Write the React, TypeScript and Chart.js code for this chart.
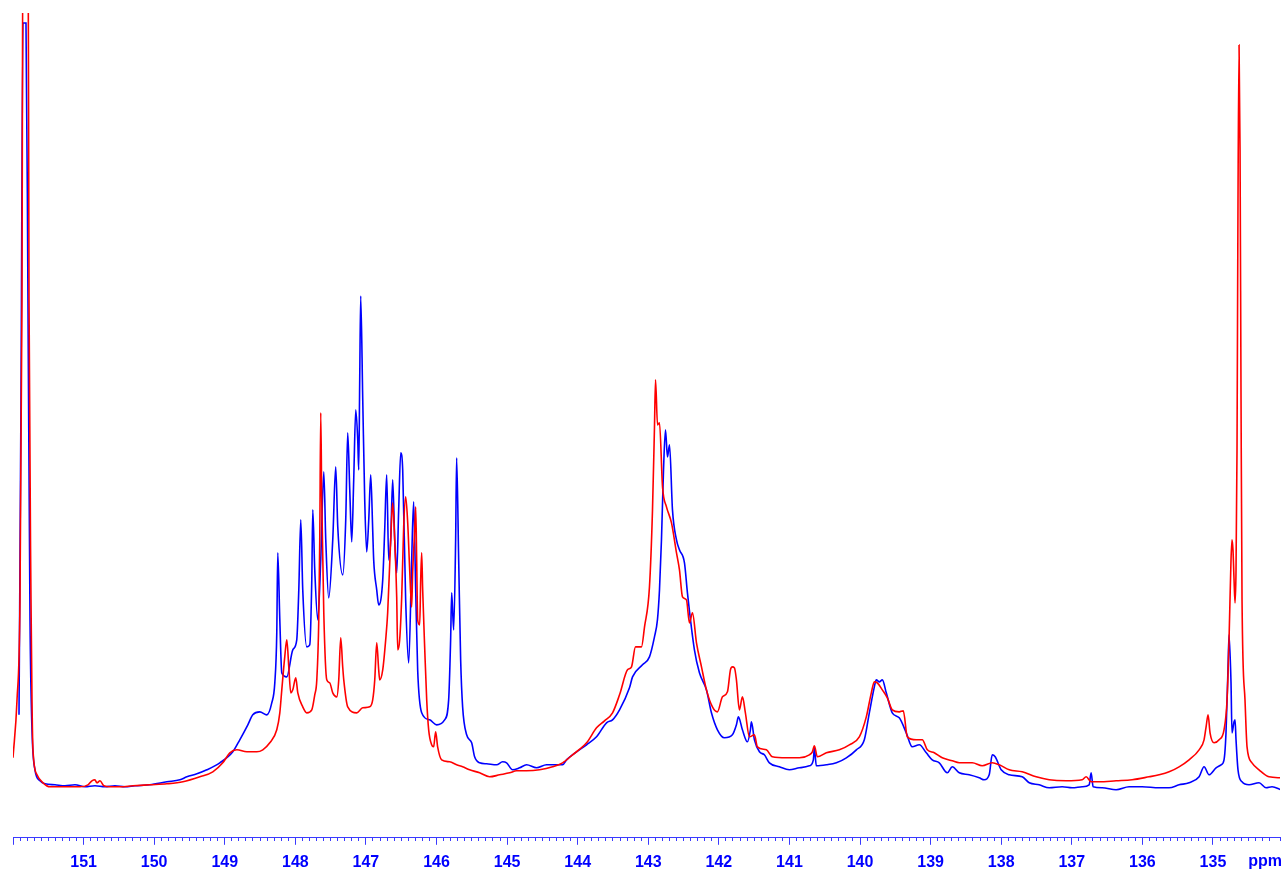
import React, { useEffect, useRef } from "react";
import { Chart, registerables } from "chart.js";

Chart.register(...registerables);

const X_MIN = 134.05;
const X_MAX = 152.0;
const Y_MIN = -48;
const Y_MAX = 777;
const AXIS_LABEL = "ppm";

const bluePpm = [151.915,151.887,151.858,151.816,151.788,151.759,151.731,151.689,151.618,151.547,151.405,151.264,151.122,150.981,150.839,150.698,150.556,150.414,150.273,150.061,149.820,149.636,149.537,149.395,149.254,149.070,148.886,148.787,148.673,148.603,148.503,148.404,148.334,148.291,148.263,148.249,148.220,148.192,148.121,148.036,147.980,147.951,147.923,147.895,147.838,147.796,147.767,147.753,147.725,147.682,147.640,147.597,147.569,147.527,147.470,147.428,147.399,147.328,147.286,147.258,147.229,147.201,147.173,147.144,147.116,147.102,147.088,147.074,147.045,147.017,146.989,146.960,146.932,146.904,146.890,146.847,146.819,146.762,146.734,146.706,146.677,146.649,146.621,146.592,146.564,146.536,146.507,146.479,146.437,146.394,146.352,146.324,146.295,146.267,146.210,146.097,145.998,145.885,145.828,145.800,145.785,145.757,145.729,145.715,145.686,145.658,145.630,145.573,145.502,145.460,145.389,145.290,145.148,145.064,145.007,144.922,144.823,144.724,144.582,144.441,144.299,144.214,144.158,144.016,143.874,143.733,143.591,143.506,143.407,143.266,143.223,143.082,142.983,142.912,142.870,142.841,142.813,142.784,142.756,142.728,142.699,142.657,142.600,142.558,142.487,142.445,142.346,142.275,142.176,142.105,142.020,141.921,141.808,141.751,141.723,141.666,141.595,141.553,141.539,141.496,141.425,141.355,141.284,141.142,141.001,140.859,140.718,140.661,140.647,140.619,140.477,140.335,140.194,140.052,139.939,139.868,139.797,139.769,139.727,139.684,139.628,139.543,139.444,139.345,139.260,139.160,139.061,138.977,138.877,138.764,138.693,138.594,138.453,138.311,138.240,138.170,138.127,138.085,138.000,137.886,137.702,137.603,137.462,137.320,137.136,136.995,136.853,136.754,136.726,136.697,136.570,136.372,136.188,136.004,135.763,135.621,135.480,135.338,135.196,135.126,135.055,134.956,134.885,134.843,134.815,134.786,134.772,134.744,134.730,134.701,134.687,134.673,134.645,134.588,134.489,134.347,134.248,134.163,134.036];

const blueInt = [75,390,767,767,490,170,60,20,9,6,5,4,5,3,4,3,4,3,4,5,8,10,13,16,20,27,38,50,65,75,78,75,87,107,157,237,170,117,113,140,150,200,270,200,143,145,210,280,220,170,230,318,250,192,250,323,263,215,270,357,300,248,310,380,350,320,410,494,390,290,238,270,315,260,230,200,185,210,260,315,230,250,310,250,217,280,337,320,190,127,230,288,200,120,77,70,65,70,90,150,197,160,250,332,230,130,83,55,47,33,27,26,25,28,27,20,22,25,22,25,25,25,30,38,45,53,67,70,80,102,113,125,133,153,170,200,250,320,360,333,345,280,250,240,227,197,140,117,100,77,60,52,55,65,73,60,48,60,68,50,38,35,27,23,20,22,24,30,42,24,25,27,32,40,50,77,103,110,108,110,97,77,72,57,43,45,37,30,27,17,23,17,15,12,10,15,35,33,20,15,13,7,5,2,3,2,3,5,17,3,2,0,3,3,2,2,5,7,13,23,15,22,25,30,57,123,155,107,57,68,70,50,20,8,5,7,2,3,0];

const redPpm = [152.000,151.943,151.901,151.873,151.858,151.788,151.773,151.745,151.731,151.717,151.660,151.575,151.476,151.236,151.052,150.938,150.882,150.839,150.811,150.768,150.712,150.627,150.485,150.301,150.061,149.820,149.593,149.353,149.169,149.028,148.928,148.829,148.687,148.546,148.461,148.362,148.263,148.220,148.192,148.150,148.121,148.093,148.065,148.036,147.994,147.965,147.895,147.838,147.767,147.725,147.696,147.668,147.654,147.640,147.626,147.597,147.555,147.513,147.470,147.413,147.385,147.357,147.328,147.314,147.258,147.130,147.045,146.946,146.904,146.875,146.847,146.819,146.805,146.762,146.720,146.692,146.649,146.621,146.592,146.564,146.550,146.522,146.493,146.465,146.437,146.408,146.380,146.352,146.338,146.309,146.295,146.281,146.267,146.238,146.224,146.210,146.196,146.168,146.139,146.111,146.069,146.041,146.012,145.984,145.927,145.814,145.715,145.630,145.531,145.389,145.248,145.106,144.964,144.865,144.724,144.540,144.356,144.214,144.073,143.874,143.733,143.620,143.506,143.407,143.294,143.237,143.181,143.096,143.053,142.983,142.940,142.912,142.897,142.869,142.841,142.798,142.742,142.671,142.600,142.558,142.515,142.459,142.416,142.374,142.317,142.246,142.176,142.091,142.020,141.949,141.878,141.836,141.808,141.779,141.751,141.709,141.666,141.624,141.567,141.496,141.454,141.326,141.242,141.043,140.859,140.718,140.675,140.647,140.604,140.477,140.293,140.151,140.010,139.911,139.840,139.797,139.755,139.684,139.613,139.543,139.444,139.387,139.330,139.203,139.118,139.047,138.948,138.835,138.693,138.594,138.410,138.269,138.127,138.028,137.886,137.702,137.504,137.320,137.080,136.853,136.796,136.726,136.612,136.372,136.145,135.905,135.763,135.621,135.480,135.338,135.196,135.126,135.097,135.069,135.041,134.984,134.913,134.843,134.800,134.772,134.744,134.730,134.716,134.701,134.687,134.673,134.659,134.645,134.630,134.616,134.602,134.588,134.546,134.517,134.447,134.347,134.206,134.036];

const redInt = [32,90,190,490,900,900,490,190,90,40,15,7,3,3,3,5,9,10,7,9,4,3,3,4,5,6,8,13,18,27,37,40,38,38,40,47,60,77,100,133,150,123,97,100,112,97,83,77,80,95,110,170,250,377,290,177,110,107,97,93,110,152,122,110,83,77,82,83,90,110,147,120,110,120,150,177,250,287,250,193,140,150,193,263,293,267,220,183,217,260,283,230,170,165,210,237,200,143,90,60,45,43,58,43,30,28,25,23,20,17,13,15,17,19,19,20,23,27,35,47,62,69,77,95,120,123,143,143,163,203,280,363,410,365,367,303,283,267,237,220,193,190,167,177,147,123,100,83,78,93,98,120,123,122,110,80,93,77,53,55,43,40,33,32,32,35,38,44,33,37,40,45,53,73,97,108,107,100,92,80,78,79,53,50,50,40,37,32,29,27,27,24,27,25,20,18,13,10,9,10,13,8,8,9,10,13,15,18,23,30,40,50,63,75,57,47,50,60,90,150,230,250,240,210,187,220,340,590,745,640,390,190,90,43,27,20,13,12];

function toPoints(xs: number[], ys: number[]) {
  const n = Math.min(xs.length, ys.length);
  const pts: { x: number; y: number }[] = [];
  for (let i = 0; i < n; i++) pts.push({ x: xs[i], y: ys[i] });
  return pts;
}

const isInteger = (v: number) => Math.abs(v - Math.round(v)) < 1e-6;

export default function App() {
  const ref = useRef<HTMLCanvasElement | null>(null);

  useEffect(() => {
    if (!ref.current) return;
    const unitPlugin = {
      id: "unitLabel",
      afterDraw(chart: any) {
        const ctx = chart.ctx;
        const sc = chart.scales.x;
        ctx.save();
        ctx.font = 'bold 16px "Liberation Sans", Arial, sans-serif';
        ctx.fillStyle = "#0000ff";
        ctx.textAlign = "right";
        ctx.textBaseline = "middle";
        ctx.fillText(AXIS_LABEL, sc.right + 2, sc.top + 24);
        ctx.restore();
      },
    };
    const chart = new Chart(ref.current, {
      type: "line",
      data: {
        datasets: [
          {
            label: "red",
            data: toPoints(redPpm, redInt),
            borderColor: "#ff0000",
            borderWidth: 1.6,
            pointRadius: 0,
            cubicInterpolationMode: "monotone",
            fill: false,
          },
          {
            label: "blue",
            data: toPoints(bluePpm, blueInt),
            borderColor: "#0000ff",
            borderWidth: 1.6,
            pointRadius: 0,
            cubicInterpolationMode: "monotone",
            fill: false,
          },
        ],
      },
      options: {
        responsive: false,
        animation: false,
        events: [],
        layout: { padding: { left: 13, right: 7, top: 13, bottom: -7 } },
        plugins: { legend: { display: false }, tooltip: { enabled: false } },
        scales: {
          x: {
            type: "linear",
            reverse: true,
            min: X_MIN,
            max: X_MAX,
            border: { display: true, color: "#3a3aff", width: 1 },
            grid: {
              drawOnChartArea: false,
              drawTicks: true,
              tickLength: 7,
              tickColor: "#3a3aff",
              tickWidth: 1,
              tickBorderDash: (ctx: any) =>
                ctx.tick && isInteger(ctx.tick.value) ? [] : [3, 30],
            },
            ticks: {
              stepSize: 0.1,
              autoSkip: false,
              maxRotation: 0,
              minRotation: 0,
              padding: 8,
              color: "#0000ff",
              font: { family: '"Liberation Sans", Arial, sans-serif', size: 16, weight: "bold" },
              callback: (v: any) => {
                const n = Number(v);
                if (!isInteger(n)) return "";
                if (n >= X_MAX - 1e-6) return "";
                return String(Math.round(n));
              },
            },
          },
          y: { display: false, min: Y_MIN, max: Y_MAX },
        },
      },
      plugins: [unitPlugin],
    });
    return () => chart.destroy();
  }, []);

  return (
    <div style={{ position: "absolute", left: 0, top: 0, width: 1288, height: 873, background: "#fff" }}>
      <canvas ref={ref} width={1288} height={873} style={{ display: "block" }} />
    </div>
  );
}
